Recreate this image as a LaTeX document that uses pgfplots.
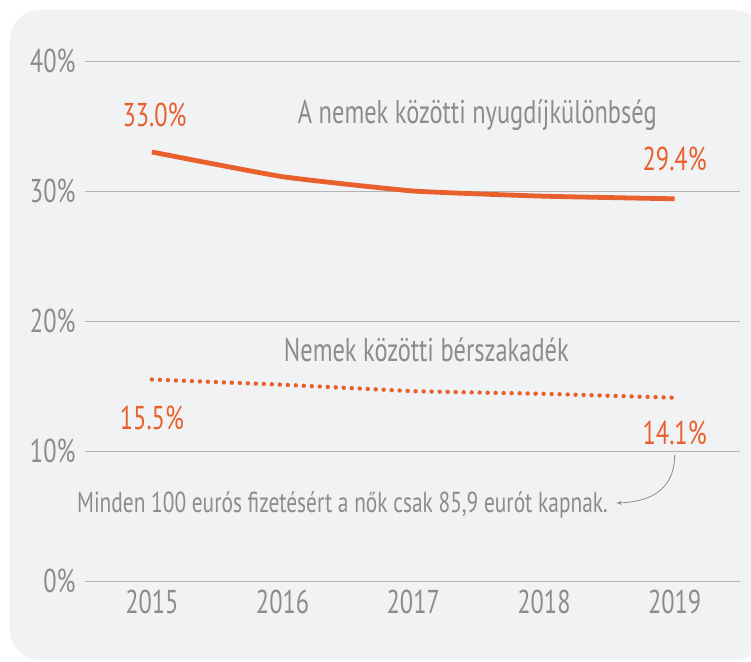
\documentclass[border=0pt]{standalone}
\usepackage{fontspec}
\setmainfont{PT Sans}[FakeStretch=0.74]
\usepackage{pgfplots}
\pgfplotsset{compat=1.18}
\usetikzlibrary{arrows.meta}
\definecolor{panel}{HTML}{F1F2F4}
\definecolor{orng}{HTML}{E8602C}
\definecolor{txtgray}{HTML}{8C8C8C}
\definecolor{gridgray}{HTML}{B4B4B4}
\begin{document}
\begin{tikzpicture}
\useasboundingbox (-85bp,-81bp) rectangle (666bp,581bp);
\fill[panel, rounded corners=30bp] (-75bp,-79bp) rectangle (680bp,571bp);
\begin{axis}[
  scale only axis, width=655bp, height=520bp,
  xmin=2014.488, xmax=2019.5, ymin=0, ymax=40,
  axis line style={draw=none}, major tick length=0pt,
  ytick={0,10,20,30,40}, yticklabels={0\%,10\%,20\%,30\%,40\%},
  xtick={2015,2016,2017,2018,2019}, xticklabels={2015,2016,2017,2018,2019},
  ymajorgrids, grid style={gridgray, line width=0.9bp},
  /pgf/number format/assume math mode=true,
  ticklabel style={font=\fontsize{33bp}{35bp}\selectfont, text=txtgray},
  yticklabel style={xshift=-6bp},
  xticklabel style={yshift=-5bp},
  clip=false,
]
\addplot[orng, line width=4.8bp, smooth, tension=0.25] coordinates {
(2015,33.0) (2016,31.1) (2017,30.0) (2018,29.6) (2019,29.4)};
\addplot[orng, line width=4.4bp, line cap=round, dash pattern=on 0pt off 8bp] coordinates {
(2015,15.5) (2016,15.1) (2017,14.6) (2018,14.4) (2019,14.1)};
\node[orng, font=\fontsize{33bp}{35bp}\selectfont] at (axis cs:2015.02,35.85) {33.0\%};
\node[txtgray, font=\fontsize{33bp}{35bp}\selectfont] at (axis cs:2017.49,35.85) {A nemek közötti nyugdíjkülönbség};
\node[orng, font=\fontsize{33bp}{35bp}\selectfont] at (axis cs:2019.0,32.5) {29.4\%};
\node[txtgray, font=\fontsize{33bp}{35bp}\selectfont] at (axis cs:2017.10,17.77) {Nemek közötti bérszakadék};
\node[orng, font=\fontsize{33bp}{35bp}\selectfont] at (axis cs:2015.0,12.54) {15.5\%};
\node[orng, font=\fontsize{33bp}{35bp}\selectfont] at (axis cs:2019.0,11.4) {14.1\%};
\node[txtgray, anchor=west, inner sep=0pt, font=\fontsize{28.9bp}{30bp}\selectfont] at (axis cs:2014.426,5.85) {Minden 100 eurós fizetésért a nők csak 85,9 eurót kapnak.};
\draw[txtgray, line width=0.8bp, -{Stealth[length=5bp,width=4bp]}] (axis cs:2019,9.7) .. controls (axis cs:2019,7.3) and (axis cs:2018.85,6.1) .. (axis cs:2018.556,6.0);
\end{axis}
\end{tikzpicture}
\end{document}
